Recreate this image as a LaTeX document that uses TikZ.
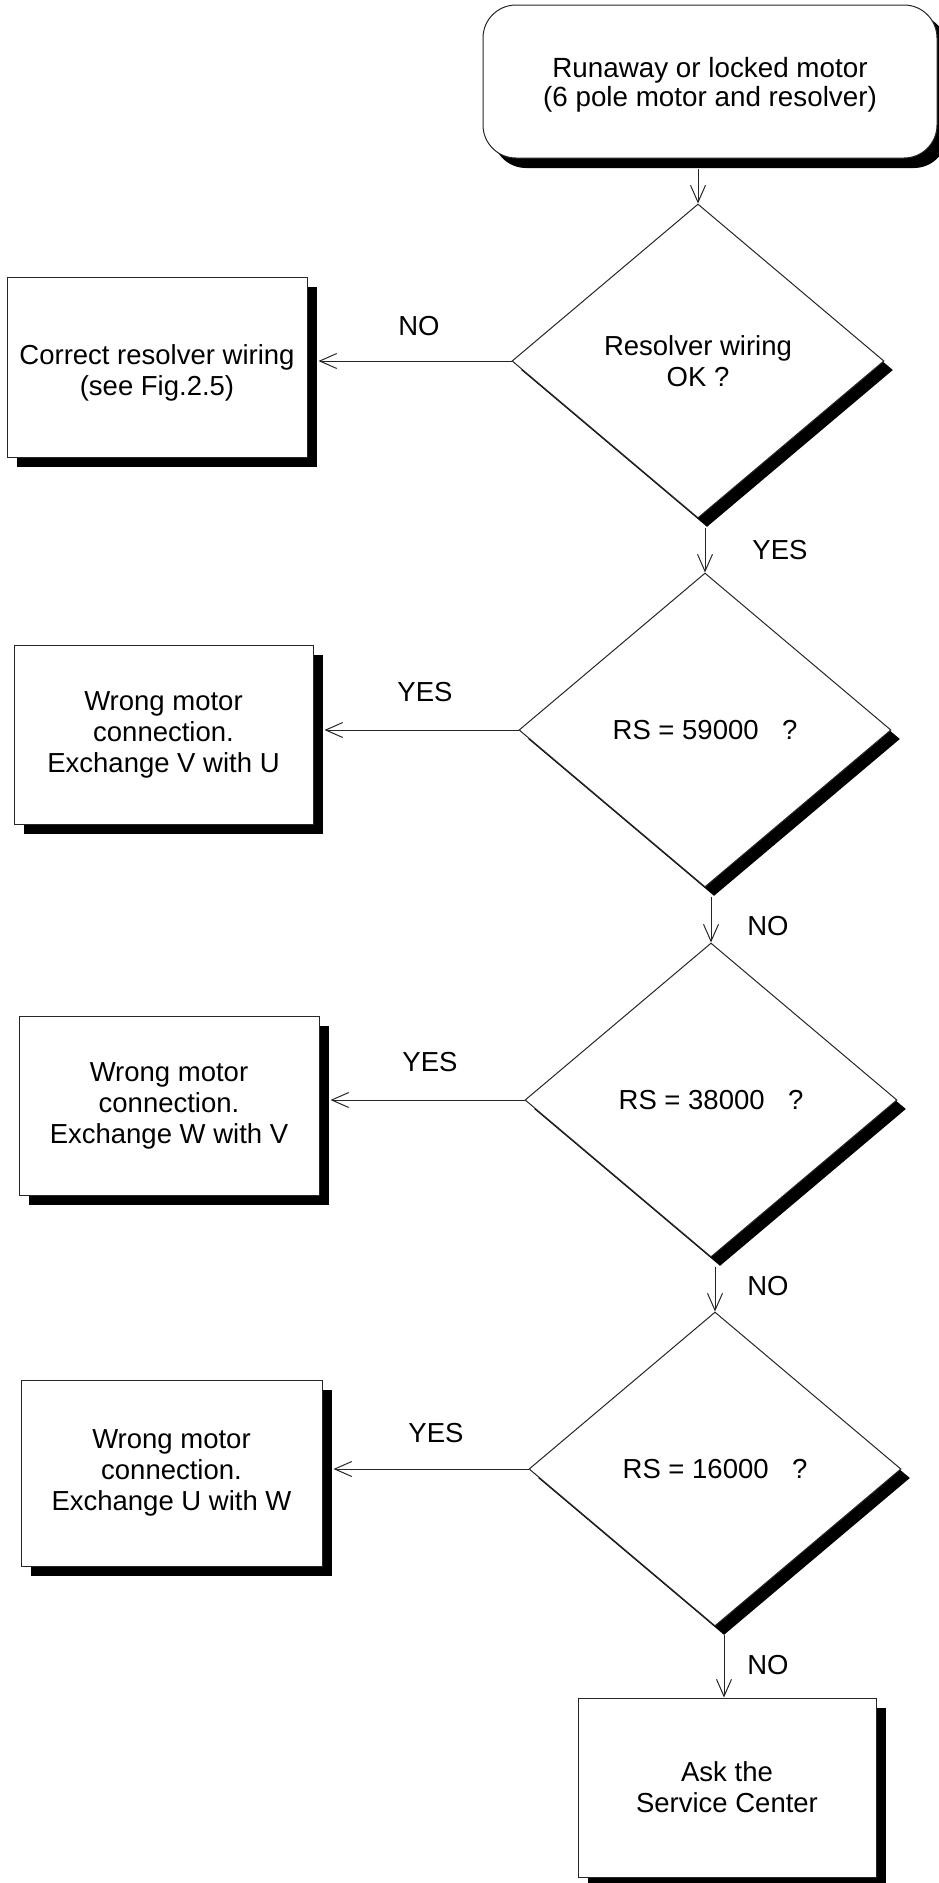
\documentclass[tikz,border=0pt]{standalone}
\usepackage{fontspec}
\setmainfont{Liberation Sans}
\usetikzlibrary{shapes.geometric,shadows,arrows.meta,calc}
\newcommand\lowtext[2]{\raisebox{-#1}[0pt][0pt]{\begin{tabular}{@{}c@{}}#2\end{tabular}}}
\begin{document}
\begin{tikzpicture}[x=1pt,y=-1pt,
  every node/.style={font=\fontsize{27.5}{31}\selectfont, align=center},
  shad/.style={drop shadow={shadow xshift=#1, shadow yshift=-#1, fill=black, opacity=1}},
  procbox/.style={draw=black!85, fill=white, line width=1pt, inner sep=0pt, minimum width=300pt, minimum height=180pt, shad=10pt},
  startbox/.style={draw=black!85, fill=white, line width=1pt, rounded corners=33pt, inner sep=0pt, minimum width=454pt, minimum height=153pt, shad=10pt},
  decision/.style={diamond, draw=black!85, fill=white, line width=1pt, inner sep=0pt, minimum width=372pt, minimum height=314pt, shad=9pt},
  arr/.style={draw=black!85, line width=1pt, -{Straight Barb[length=17pt,width=15pt]}},
  lbl/.style={inner sep=0pt}
]
\useasboundingbox (0,0) rectangle (939,1883);

\node[startbox, font=\fontsize{27.8}{28}\selectfont] (t) at (710,81.5) {\lowtext{11pt}{Runaway or locked motor\\(6 pole motor and resolver)}};

\node[decision] (d1) at (698,361) {Resolver wiring\\OK ?};
\node[decision] (d2) at (705,730) {RS = 59000\hspace{0.85em}?};
\node[decision] (d3) at (711,1100) {RS = 38000\hspace{0.85em}?};
\node[decision] (d4) at (715,1469) {RS = 16000\hspace{0.85em}?};

\node[procbox] (b1) at (157,367) {\lowtext{13pt}{Correct resolver wiring\\(see Fig.2.5)}};
\node[procbox, minimum width=299pt, minimum height=179pt] (b2) at (163.5,734.5) {Wrong motor\\connection.\\Exchange V with U};
\node[procbox, minimum height=179pt] (b3) at (169,1105.5) {Wrong motor\\connection.\\Exchange W with V};
\node[procbox, minimum width=301pt, minimum height=186pt] (b4) at (171.5,1473) {Wrong motor\\connection.\\Exchange U with W};
\node[procbox, minimum width=298pt, minimum height=179pt] (b5) at (727,1787.5) {Ask the\\Service Center};

% vertical connectors
\draw[arr] ([yshift=-10pt]d1.north |- t.south) -- (d1.north);
\draw[arr] ([yshift=-9pt]d2.north |- d1.south) -- (d2.north);
\draw[arr] ([yshift=-9pt]d3.north |- d2.south) -- (d3.north);
\draw[arr] ([yshift=-9pt]d4.north |- d3.south) -- (d4.north);
\coordinate (d4s) at ([shift={(9pt,-8pt)}]d4.south);
\draw[arr] (d4s) -- (d4s |- b5.north);

% horizontal connectors
\draw[arr] (d1.west) -- ([xshift=11pt]b1.east |- d1.west);
\draw[arr] (d2.west) -- ([xshift=11pt]b2.east |- d2.west);
\draw[arr] (d3.west) -- ([xshift=11pt]b3.east |- d3.west);
\draw[arr] (d4.west) -- ([xshift=11pt]b4.east |- d4.west);

% labels
\node[lbl] (l1) at (419,326) {NO};
\node[lbl] (l2) at (780,550) {YES};
\node[lbl] (l3) at (425,692) {YES};
\node[lbl] (l4) at (768,926) {NO};
\node[lbl] (l5) at (430,1062) {YES};
\node[lbl] (l6) at (768,1286) {NO};
\node[lbl] (l7) at (436,1433) {YES};
\node[lbl] (l8) at (768,1665) {NO};
\end{tikzpicture}
\end{document}
